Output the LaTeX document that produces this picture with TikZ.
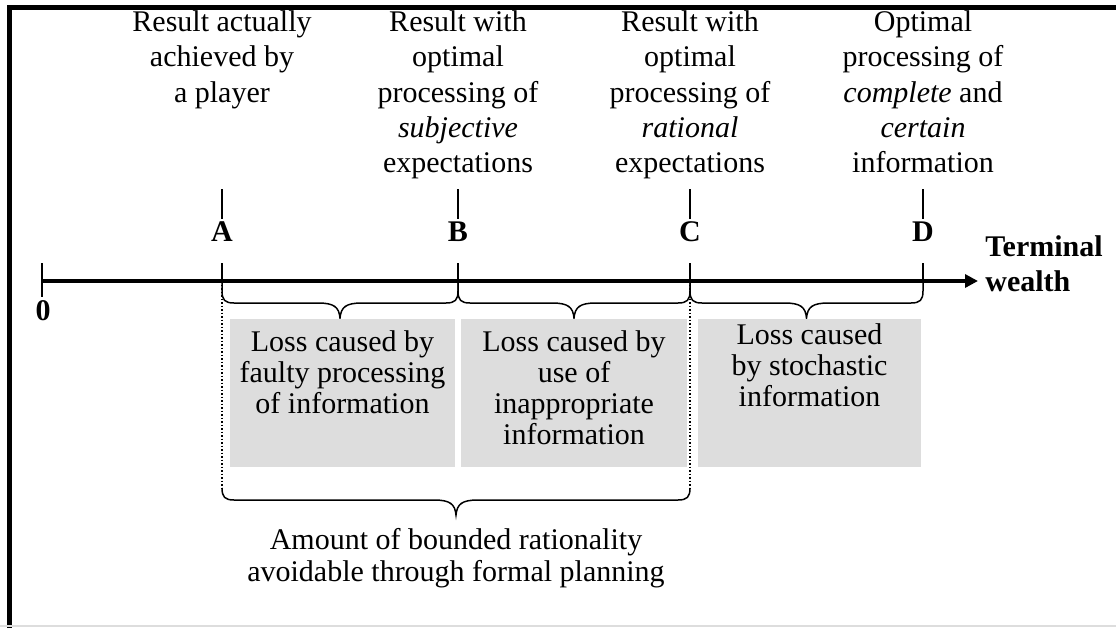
\documentclass[tikz,border=0pt]{standalone}
\usepackage{fontspec}
\setmainfont{Liberation Serif}
\usetikzlibrary{arrows.meta,positioning}
\definecolor{lossgray}{RGB}{221,221,221}
\tikzset{
    >={Triangle[length=6.5pt,width=6.5pt]},
    tickline/.style={line width=0.75pt},
    bracelin/.style={line width=0.75pt},
    letter/.style={inner sep=0pt,font=\fontsize{15}{17}\selectfont\bfseries},
    toplabel/.style={anchor=north,align=center,inner sep=0pt,font=\fontsize{15}{17.7}\selectfont},
    losstext/.style={anchor=north,align=center,inner sep=0pt,font=\fontsize{15}{15.5}\selectfont}
}
% curly brace: x1, x2, top of arms, flat part, tip
\newcommand{\wealthbrace}[5]{%
    \draw[bracelin] (#1,#3) -- (#1,#4-12) .. controls (#1,#4-3) and (#1+3,#4) .. (#1+12,#4)
        -- ({(#1+#2)/2-22},#4) .. controls ({(#1+#2)/2-6},#4) and ({(#1+#2)/2-1},#4+4) .. ({(#1+#2)/2},#5)
        .. controls ({(#1+#2)/2+1},#4+4) and ({(#1+#2)/2+6},#4) .. ({(#1+#2)/2+22},#4)
        -- (#2-12,#4) .. controls (#2-3,#4) and (#2,#4-3) .. (#2,#4-12) -- (#2,#3);}

\begin{document}
\begin{tikzpicture}[x=0.5pt,y=-0.5pt]
    \useasboundingbox (0,0) rectangle (1116,628);
    % frame
    \draw[line width=2.2pt] (9.5,628) -- (9.5,7.5) -- (1116,7.5);
    \draw[lossgray,line width=0.75pt] (0,626) -- (1116,626);

    % results above the axis
    \node[toplabel] (resA) at (222,10) {Result actually\\achieved by\\a player};
    \node[toplabel] (resB) at (458,10) {Result with\\optimal\\processing of\\\textit{subjective}\\expectations};
    \node[toplabel] (resC) at (690,10) {Result with\\optimal\\processing of\\\textit{rational}\\expectations};
    \node[toplabel] (resD) at (923,10) {Optimal\\processing of\\\textit{complete} and\\\textit{certain}\\information};
    \draw[tickline] (222,189) -- (222,219);
    \draw[tickline] (458,189) -- (458,219);
    \draw[tickline] (690,189) -- (690,219);
    \draw[tickline] (923,189) -- (923,219);
    \node[letter] (labA) at (222,232) {A};
    \node[letter] (labB) at (458,232) {B};
    \node[letter] (labC) at (690,232) {C};
    \node[letter] (labD) at (923,232) {D};

    % axis
    \coordinate (O) at (42,281);
    \coordinate (A) at (222,281);
    \coordinate (B) at (458,281);
    \coordinate (C) at (690,281);
    \coordinate (D) at (923,281);
    \coordinate (end) at (978,281);
    \draw[line width=2pt,->] (O) -- (end);
    \draw[tickline] (42,263) -- (42,297);
    \draw[tickline] (222,263) -- (A);
    \draw[tickline] (458,263) -- (B);
    \draw[tickline] (690,263) -- (C);
    \draw[tickline] (923,263) -- (D);
    \node[letter] (zero) at (43,311) {0};
    \node[letter,anchor=north west,align=left,font=\fontsize{15}{17.5}\selectfont\bfseries] (wealth) at (985,235) {Terminal\\wealth};

    % losses
    \wealthbrace{222}{458}{281}{303}{318}
    \wealthbrace{458}{690}{281}{303}{318}
    \wealthbrace{690}{923}{281}{303}{318}
    \fill[lossgray] (230,319) rectangle (455,467);
    \fill[lossgray] (461,319) rectangle (687,467);
    \fill[lossgray] (698,319) rectangle (921,467);
    \node[losstext] (loss1) at (342.5,330) {Loss caused by\\faulty processing\\of information};
    \node[losstext] (loss2) at (574,330) {Loss caused by\\use of\\inappropriate\\information};
    \node[losstext] (loss3) at (809.5,323) {Loss caused\\by stochastic\\information};

    % bounded rationality
    \draw[bracelin,densely dotted] (A) -- (222,488);
    \draw[bracelin,densely dotted] (C) -- (690,488);
    \wealthbrace{222}{690}{488}{500}{515}
    \node[losstext,font=\fontsize{15}{16}\selectfont] (amount) at (456,528) {Amount of bounded rationality\\avoidable through formal planning};
\end{tikzpicture}
\end{document}
